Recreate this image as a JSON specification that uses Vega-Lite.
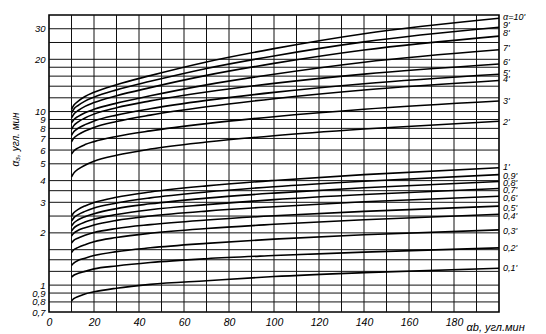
{
  "$schema": "https://vega.github.io/schema/vega-lite/v6.json",
  "width": 450,
  "height": 297,
  "autosize": {"type": "none"},
  "padding": {"left": 49, "top": 15, "right": 47, "bottom": 22},
  "background": "white",
  "config": {
    "view": {"stroke": "black", "strokeWidth": 1.6},
    "font": "Liberation Sans",
    "axis": {"domain": false, "grid": false, "tickSize": 0, "labelOverlap": false,
      "labelFont": "Liberation Sans", "labelFontStyle": "italic", "labelFontSize": 10.5, "labelColor": "black",
      "titleFont": "Liberation Sans", "titleFontStyle": "italic", "titleFontWeight": "normal", "titleFontSize": 10, "titleColor": "black"}
  },
  "datasets": {
    "xgrid": [{"v":10},{"v":20},{"v":30},{"v":40},{"v":50},{"v":60},{"v":70},{"v":80},{"v":90},{"v":100},{"v":110},{"v":120},{"v":130},{"v":140},{"v":150},{"v":160},{"v":170},{"v":180},{"v":190}],
    "ygrid": [{"v":0.8},{"v":0.9},{"v":1},{"v":1.2},{"v":1.4},{"v":1.6},{"v":2},{"v":2.5},{"v":3},{"v":3.5},{"v":4},{"v":5},{"v":6},{"v":7},{"v":8},{"v":9},{"v":10},{"v":12},{"v":14},{"v":16},{"v":18},{"v":20},{"v":25},{"v":30}],
    "curves": [
      {"a":"10","x":10,"y":10.3},{"a":"10","x":11,"y":10.88},{"a":"10","x":13,"y":11.48},{"a":"10","x":16,"y":12.2},{"a":"10","x":20,"y":12.9},{"a":"10","x":30,"y":14.28},{"a":"10","x":45,"y":16.11},{"a":"10","x":70,"y":19.31},{"a":"10","x":100,"y":23.04},{"a":"10","x":140,"y":28.09},{"a":"10","x":200,"y":34.5},
      {"a":"9","x":10,"y":9.8},{"a":"9","x":11,"y":10.32},{"a":"9","x":13,"y":10.86},{"a":"9","x":16,"y":11.49},{"a":"9","x":20,"y":12.11},{"a":"9","x":30,"y":13.33},{"a":"9","x":45,"y":14.93},{"a":"9","x":70,"y":17.72},{"a":"9","x":100,"y":20.92},{"a":"9","x":140,"y":25.21},{"a":"9","x":200,"y":30.6},
      {"a":"8","x":10,"y":9.2},{"a":"8","x":11,"y":9.66},{"a":"8","x":13,"y":10.14},{"a":"8","x":16,"y":10.71},{"a":"8","x":20,"y":11.26},{"a":"8","x":30,"y":12.33},{"a":"8","x":45,"y":13.74},{"a":"8","x":70,"y":16.16},{"a":"8","x":100,"y":18.94},{"a":"8","x":140,"y":22.62},{"a":"8","x":200,"y":27.2},
      {"a":"7","x":10,"y":8.6},{"a":"7","x":11,"y":8.98},{"a":"7","x":13,"y":9.39},{"a":"7","x":16,"y":9.85},{"a":"7","x":20,"y":10.3},{"a":"7","x":30,"y":11.18},{"a":"7","x":45,"y":12.32},{"a":"7","x":70,"y":14.25},{"a":"7","x":100,"y":16.41},{"a":"7","x":140,"y":19.25},{"a":"7","x":200,"y":22.7},
      {"a":"6","x":10,"y":7.9},{"a":"6","x":11,"y":8.3},{"a":"6","x":13,"y":8.73},{"a":"6","x":16,"y":9.19},{"a":"6","x":20,"y":9.67},{"a":"6","x":30,"y":10.52},{"a":"6","x":45,"y":11.52},{"a":"6","x":70,"y":12.97},{"a":"6","x":100,"y":14.53},{"a":"6","x":140,"y":16.43},{"a":"6","x":200,"y":18.8},
      {"a":"5","x":10,"y":7.3},{"a":"5","x":11,"y":7.64},{"a":"5","x":13,"y":8.01},{"a":"5","x":16,"y":8.41},{"a":"5","x":20,"y":8.82},{"a":"5","x":30,"y":9.54},{"a":"5","x":45,"y":10.38},{"a":"5","x":70,"y":11.6},{"a":"5","x":100,"y":12.9},{"a":"5","x":140,"y":14.47},{"a":"5","x":200,"y":16.4},
      {"a":"4","x":10,"y":6.7},{"a":"4","x":11,"y":7.02},{"a":"4","x":13,"y":7.36},{"a":"4","x":16,"y":7.72},{"a":"4","x":20,"y":8.1},{"a":"4","x":30,"y":8.76},{"a":"4","x":45,"y":9.54},{"a":"4","x":70,"y":10.66},{"a":"4","x":100,"y":11.86},{"a":"4","x":140,"y":13.31},{"a":"4","x":200,"y":15.1},
      {"a":"3","x":10,"y":5.7},{"a":"3","x":11,"y":5.93},{"a":"3","x":13,"y":6.18},{"a":"3","x":16,"y":6.45},{"a":"3","x":20,"y":6.71},{"a":"3","x":30,"y":7.19},{"a":"3","x":45,"y":7.74},{"a":"3","x":70,"y":8.52},{"a":"3","x":100,"y":9.34},{"a":"3","x":140,"y":10.31},{"a":"3","x":200,"y":11.5},
      {"a":"2","x":10,"y":4.2},{"a":"2","x":11,"y":4.42},{"a":"2","x":13,"y":4.66},{"a":"2","x":16,"y":4.91},{"a":"2","x":20,"y":5.17},{"a":"2","x":30,"y":5.6},{"a":"2","x":45,"y":6.08},{"a":"2","x":70,"y":6.67},{"a":"2","x":100,"y":7.26},{"a":"2","x":140,"y":7.93},{"a":"2","x":200,"y":8.8},
      {"a":"1","x":10,"y":2.5},{"a":"1","x":11,"y":2.61},{"a":"1","x":13,"y":2.73},{"a":"1","x":16,"y":2.86},{"a":"1","x":20,"y":2.99},{"a":"1","x":30,"y":3.21},{"a":"1","x":45,"y":3.44},{"a":"1","x":70,"y":3.73},{"a":"1","x":100,"y":4.01},{"a":"1","x":140,"y":4.33},{"a":"1","x":200,"y":4.74},
      {"a":"0.9","x":10,"y":2.34},{"a":"0.9","x":11,"y":2.44},{"a":"0.9","x":13,"y":2.55},{"a":"0.9","x":16,"y":2.66},{"a":"0.9","x":20,"y":2.78},{"a":"0.9","x":30,"y":2.97},{"a":"0.9","x":45,"y":3.18},{"a":"0.9","x":70,"y":3.44},{"a":"0.9","x":100,"y":3.69},{"a":"0.9","x":140,"y":3.97},{"a":"0.9","x":200,"y":4.33},
      {"a":"0.8","x":10,"y":2.19},{"a":"0.8","x":11,"y":2.28},{"a":"0.8","x":13,"y":2.38},{"a":"0.8","x":16,"y":2.48},{"a":"0.8","x":20,"y":2.58},{"a":"0.8","x":30,"y":2.76},{"a":"0.8","x":45,"y":2.94},{"a":"0.8","x":70,"y":3.17},{"a":"0.8","x":100,"y":3.39},{"a":"0.8","x":140,"y":3.64},{"a":"0.8","x":200,"y":3.95},
      {"a":"0.7","x":10,"y":2.05},{"a":"0.7","x":11,"y":2.13},{"a":"0.7","x":13,"y":2.22},{"a":"0.7","x":16,"y":2.31},{"a":"0.7","x":20,"y":2.4},{"a":"0.7","x":30,"y":2.55},{"a":"0.7","x":45,"y":2.72},{"a":"0.7","x":70,"y":2.91},{"a":"0.7","x":100,"y":3.11},{"a":"0.7","x":140,"y":3.33},{"a":"0.7","x":200,"y":3.6},
      {"a":"0.6","x":10,"y":1.92},{"a":"0.6","x":11,"y":1.99},{"a":"0.6","x":13,"y":2.07},{"a":"0.6","x":16,"y":2.14},{"a":"0.6","x":20,"y":2.22},{"a":"0.6","x":30,"y":2.36},{"a":"0.6","x":45,"y":2.5},{"a":"0.6","x":70,"y":2.67},{"a":"0.6","x":100,"y":2.83},{"a":"0.6","x":140,"y":3.02},{"a":"0.6","x":200,"y":3.25},
      {"a":"0.5","x":10,"y":1.75},{"a":"0.5","x":11,"y":1.81},{"a":"0.5","x":13,"y":1.87},{"a":"0.5","x":16,"y":1.94},{"a":"0.5","x":20,"y":2.01},{"a":"0.5","x":30,"y":2.12},{"a":"0.5","x":45,"y":2.23},{"a":"0.5","x":70,"y":2.37},{"a":"0.5","x":100,"y":2.51},{"a":"0.5","x":140,"y":2.66},{"a":"0.5","x":200,"y":2.85},
      {"a":"0.4","x":10,"y":1.54},{"a":"0.4","x":11,"y":1.6},{"a":"0.4","x":13,"y":1.65},{"a":"0.4","x":16,"y":1.71},{"a":"0.4","x":20,"y":1.78},{"a":"0.4","x":30,"y":1.88},{"a":"0.4","x":45,"y":1.99},{"a":"0.4","x":70,"y":2.12},{"a":"0.4","x":100,"y":2.24},{"a":"0.4","x":140,"y":2.38},{"a":"0.4","x":200,"y":2.56},
      {"a":"0.3","x":10,"y":1.3},{"a":"0.3","x":11,"y":1.34},{"a":"0.3","x":13,"y":1.39},{"a":"0.3","x":16,"y":1.43},{"a":"0.3","x":20,"y":1.48},{"a":"0.3","x":30,"y":1.56},{"a":"0.3","x":45,"y":1.64},{"a":"0.3","x":70,"y":1.74},{"a":"0.3","x":100,"y":1.84},{"a":"0.3","x":140,"y":1.95},{"a":"0.3","x":200,"y":2.08},
      {"a":"0.2","x":10,"y":1.11},{"a":"0.2","x":11,"y":1.14},{"a":"0.2","x":13,"y":1.17},{"a":"0.2","x":16,"y":1.2},{"a":"0.2","x":20,"y":1.24},{"a":"0.2","x":30,"y":1.29},{"a":"0.2","x":45,"y":1.35},{"a":"0.2","x":70,"y":1.42},{"a":"0.2","x":100,"y":1.48},{"a":"0.2","x":140,"y":1.55},{"a":"0.2","x":200,"y":1.64},
      {"a":"0.1","x":10,"y":0.81},{"a":"0.1","x":11,"y":0.835},{"a":"0.1","x":13,"y":0.86},{"a":"0.1","x":16,"y":0.89},{"a":"0.1","x":20,"y":0.915},{"a":"0.1","x":30,"y":0.96},{"a":"0.1","x":45,"y":1.01},{"a":"0.1","x":70,"y":1.06},{"a":"0.1","x":100,"y":1.12},{"a":"0.1","x":140,"y":1.18},{"a":"0.1","x":200,"y":1.25}
    ],
    "labels": [
      {"t":"α=10'","lv":35.2},{"t":"9'","lv":31.7},{"t":"8'","lv":28.2},{"t":"7'","lv":23.2},{"t":"6'","lv":19.3},
      {"t":"5'","lv":16.7},{"t":"4'","lv":15.4},{"t":"3'","lv":11.5},{"t":"2'","lv":8.74},{"t":"1'","lv":4.8},
      {"t":"0,9'","lv":4.26},{"t":"0,8'","lv":3.89},{"t":"0,7'","lv":3.55},{"t":"0,6'","lv":3.16},{"t":"0,5'","lv":2.77},
      {"t":"0,4'","lv":2.49},{"t":"0,3'","lv":2.05},{"t":"0,2'","lv":1.64},{"t":"0,1'","lv":1.25}
    ]
  },
  "encoding": {
    "x": {"type": "quantitative", "scale": {"domain": [0, 200], "nice": false, "zero": false}},
    "y": {"type": "quantitative", "scale": {"type": "log", "domain": [0.7, 36], "nice": false}}
  },
  "layer": [
    {
      "data": {"name": "xgrid"},
      "mark": {"type": "rule", "color": "#111111", "strokeWidth": 1},
      "encoding": {"x": {"field": "v", "type": "quantitative"}}
    },
    {
      "data": {"name": "ygrid"},
      "mark": {"type": "rule", "color": "#111111", "strokeWidth": 1},
      "encoding": {"y": {"field": "v", "type": "quantitative"}}
    },
    {
      "data": {"name": "curves"},
      "mark": {"type": "line", "interpolate": "monotone", "color": "black", "strokeWidth": 1.6},
      "encoding": {
        "x": {"field": "x", "type": "quantitative",
          "axis": {"values": [0,20,40,60,80,100,120,140,160,180],
            "labelPadding": 5, "labelFlush": false,
            "title": "αb, угл.мин", "titleX": 417, "titleY": 15, "titleAlign": "left", "titleBaseline": "middle", "titleFontSize": 11}},
        "y": {"field": "y", "type": "quantitative",
          "axis": {"values": [0.7,0.8,0.9,1,2,3,4,5,6,7,8,9,10,20,30],
            "labelExpr": "replace(toString(datum.value), '.', ',')",
            "labelPadding": 4, "labelFontSize": 9.5,
            "title": "α₃, угл. мин", "titleX": -34, "titleY": 124, "titleAngle": -90, "titleAlign": "center", "titleBaseline": "middle"}},
        "detail": {"field": "a", "type": "nominal"}
      }
    },
    {
      "data": {"name": "labels"},
      "mark": {"type": "text", "align": "left", "baseline": "middle", "dx": 4, "fontStyle": "italic", "fontSize": 9, "font": "Liberation Sans", "color": "black"},
      "encoding": {
        "x": {"datum": 200, "type": "quantitative"},
        "y": {"field": "lv", "type": "quantitative"},
        "text": {"field": "t"}
      }
    }
  ]
}
